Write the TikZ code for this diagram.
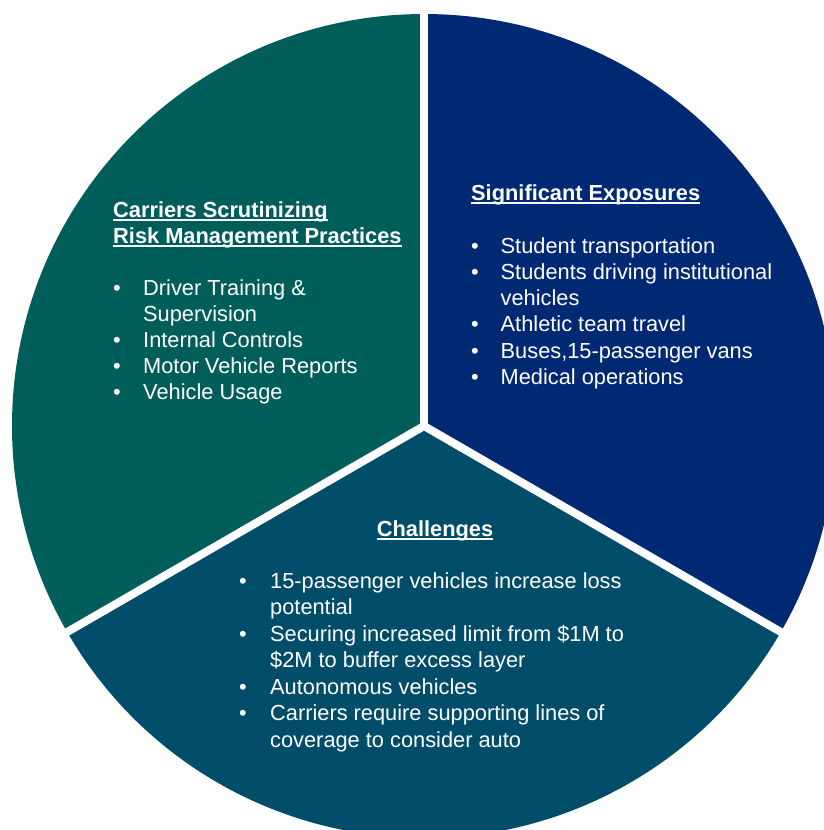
\documentclass[tikz,border=0pt]{standalone}
\usepackage{fontspec}
\usetikzlibrary{calc}
\setmainfont{Liberation Sans}

\definecolor{riskteal}{RGB}{0,94,90}
\definecolor{exponavy}{RGB}{0,41,115}
\definecolor{challblue}{RGB}{0,77,106}

% bold heading with a thin rule just under the baseline
\newcommand\hdr[1]{\setbox0\hbox{\bfseries #1}\rlap{\rule[-3.9pt]{\wd0}{1.7pt}}\box0}

\begin{document}
\begin{tikzpicture}[x=1pt,y=-1pt,
  gap/.style={draw=white,line width=8pt},
  txt/.style={text=white,inner sep=0pt,anchor=base west},
  headtxt/.style={txt,font=\fontsize{21.8}{26}\selectfont},
]
\useasboundingbox (0,0) rectangle (824,830);
\clip (0,0) rectangle (824,830);

% pie centre and the three rim points of the separators
\coordinate (c) at (424,426);
\coordinate (top) at (424,14);
\coordinate (ll) at (67.2,632);
\coordinate (lr) at (780.8,632);

% sectors
\fill[riskteal] (c) -- (top) arc[start angle=270,end angle=150,radius=412] -- cycle;
\fill[exponavy] (c) -- (top) arc[start angle=-90,end angle=30,radius=412] -- cycle;
\fill[challblue] (c) -- (ll) arc[start angle=150,end angle=30,radius=412] -- cycle;

% white separators
\draw[gap] (c) -- ($(c)!1.05!(top)$);
\draw[gap] (c) -- ($(c)!1.05!(ll)$);
\draw[gap] (c) -- ($(c)!1.05!(lr)$);

% risk management block
\node[headtxt] (riskhead) at (113,217) {\begin{tabular}[t]{@{}l@{}}
\hdr{Carriers Scrutinizing}\\ \hdr{Risk Management Practices}\end{tabular}};
\node[txt,font=\fontsize{21.8}{26.2}\selectfont] (risklist) at (113,295) {\begin{tabular}[t]{@{}p{30pt}@{}l@{}}
•& Driver Training \&\\
 & Supervision\\
•& Internal Controls\\
•& Motor Vehicle Reports\\
•& Vehicle Usage
\end{tabular}};

% exposures block
\node[headtxt] (expohead) at (471,200) {\hdr{Significant Exposures}};
\node[txt,font=\fontsize{21.8}{26.3}\selectfont] (expolist) at (471,253) {\begin{tabular}[t]{@{}p{29.5pt}@{}l@{}}
•& Student transportation\\
•& Students driving institutional\\
 & vehicles\\
•& Athletic team travel\\
•& Buses,15-passenger vans\\
•& Medical operations
\end{tabular}};

% challenges block
\node[headtxt,anchor=base] (challhead) at (435,536) {\hdr{Challenges}};
\node[txt,font=\fontsize{21.8}{26.5}\selectfont] (challlist) at (239,588) {\begin{tabular}[t]{@{}p{31pt}@{}l@{}}
•& 15-passenger vehicles increase loss\\
 & potential\\
•& Securing increased limit from \$1M to\\
 & \$2M to buffer excess layer\\
•& Autonomous vehicles\\
•& Carriers require supporting lines of\\
 & coverage to consider auto
\end{tabular}};
\end{tikzpicture}
\end{document}
